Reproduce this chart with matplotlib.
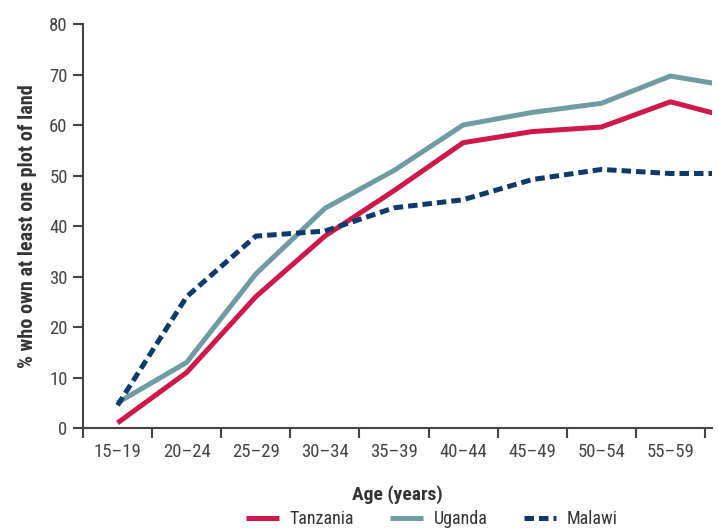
import numpy as np
import matplotlib.pyplot as plt

plt.rcParams['font.family'] = ['Roboto Condensed', 'PT Sans Narrow', 'Fira Sans Condensed',
                               'Archivo Narrow', 'Open Sans Condensed', 'Liberation Sans', 'DejaVu Sans']

ages = ['15–19', '20–24', '25–29', '30–34', '35–39', '40–44', '45–49', '50–54', '55–59', '60–64']
tanzania = [1.0, 11.0, 26.0, 38.0, 47.0, 56.5, 58.7, 59.6, 64.6, 61.0]
uganda = [5.0, 13.0, 30.5, 43.5, 51.0, 60.0, 62.5, 64.3, 69.7, 67.4]
malawi = [4.5, 26.0, 38.0, 39.0, 43.6, 45.2, 49.2, 51.2, 50.4, 50.4]

c_tz = '#d0174a'
c_ug = '#6f9ba2'
c_mw = '#0c3a6b'
grey = '#444444'

fig = plt.figure(figsize=(7.18, 5.28), dpi=100)
ax = fig.add_axes([0.1156, 0.1894, 0.8760, 0.7651])

x = np.arange(len(ages))
ax.plot(x, tanzania, color=c_tz, lw=3.6, solid_capstyle='butt', label='Tanzania')
ax.plot(x, uganda, color=c_ug, lw=3.6, solid_capstyle='butt', label='Uganda')
ax.plot(x, malawi, color=c_mw, lw=3.6, ls=(0, (1.9, 1.0)), dash_capstyle='butt', label='Malawi')

# last group (60-64) runs off the right edge, like the original
ax.set_xlim(-0.5, 8.6)
ax.set_ylim(0, 80)
ax.set_yticks(range(0, 81, 10))
ax.set_xticks(np.arange(-0.5, 9, 1.0))
ax.set_xticklabels([])
ax.set_xticks(x[:9], ages[:9], minor=True)
ax.tick_params(axis='x', which='minor', length=0, pad=11, labelsize=13.5, colors=grey)
ax.tick_params(axis='x', which='major', length=7, width=1.5, color=grey)
ax.tick_params(axis='y', length=7, width=1.5, color=grey, labelsize=13.5, labelcolor=grey, pad=4)

for s in ['top', 'right']:
    ax.spines[s].set_visible(False)
for s in ['left', 'bottom']:
    ax.spines[s].set_color(grey)
    ax.spines[s].set_linewidth(1.5)

ax.set_ylabel('% who own at least one plot of land', fontsize=14.5, fontweight='bold', color='#333333', labelpad=9)
ax.set_xlabel('Age (years)', fontsize=14, fontweight='bold', color='#333333', labelpad=17)

fig.legend(loc='center', bbox_to_anchor=(0.602, 0.017), ncol=3, frameon=False,
           fontsize=13, handlelength=1.8, columnspacing=2.0, handletextpad=0.6,
           labelcolor='#333333')

fig.savefig('out.png', dpi=100)
